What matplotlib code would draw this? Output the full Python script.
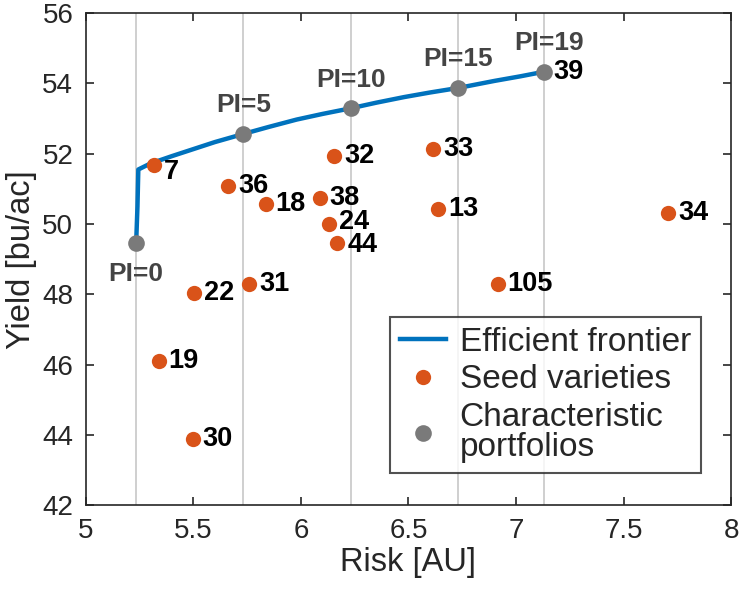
import matplotlib
matplotlib.use('Agg')
import matplotlib.pyplot as plt

plt.rcParams['font.family'] = ['Liberation Sans', 'DejaVu Sans']

# efficient frontier (risk, yield)
frontier_x = [5.234, 5.240, 5.244, 5.30, 5.40, 5.50, 5.60, 5.732, 5.85, 5.98, 6.10, 6.231, 6.35, 6.48, 6.60, 6.732, 6.90, 7.02, 7.13]
frontier_y = [49.47, 50.5, 51.55, 51.72, 51.93, 52.13, 52.33, 52.56, 52.76, 52.97, 53.13, 53.29, 53.45, 53.61, 53.74, 53.87, 54.07, 54.20, 54.33]

# characteristic portfolios
pi_labels = ['PI=0', 'PI=5', 'PI=10', 'PI=15', 'PI=19']
pi_x = [5.234, 5.732, 6.231, 6.732, 7.130]
pi_y = [49.47, 52.56, 53.29, 53.87, 54.33]

# seed varieties
seed_names = ['7', '36', '18', '38', '24', '44', '32', '33', '13', '34', '105', '22', '31', '19', '30']
seed_x = [5.318, 5.662, 5.836, 6.088, 6.132, 6.170, 6.155, 6.616, 6.639, 7.708, 6.915, 5.504, 5.760, 5.340, 5.496]
seed_y = [51.69, 51.08, 50.58, 50.75, 49.99, 49.46, 51.94, 52.12, 50.42, 50.30, 48.28, 48.05, 48.29, 46.11, 43.88]

blue = '#0072BD'
orange = '#D95319'
grey = '#7a7a7a'

fig = plt.figure(figsize=(7.4, 5.93), dpi=100)
ax = fig.add_axes([0.116, 0.148, 0.872, 0.830])

for x in pi_x:
    ax.axvline(x, color='#cccccc', lw=1.3, zorder=0)

ax.plot(frontier_x, frontier_y, color=blue, lw=3.2, label='Efficient frontier', zorder=2)
ax.plot(seed_x, seed_y, 'o', color=orange, ms=11, mec='none', label='Seed varieties', zorder=3)
ax.plot(pi_x, pi_y, 'o', color=grey, ms=12, mec='none', label='Characteristic\nportfolios', zorder=4)

nudge = {'7': -5, '24': 1.5, '44': -1.5}
for name, x, y in zip(seed_names, seed_x, seed_y):
    ax.annotate(name, (x, y), xytext=(7, nudge.get(name, 0)), textcoords='offset points',
                ha='left', va='center', fontsize=19.5, fontweight='bold', color='black')
ax.annotate('39', (pi_x[-1], pi_y[-1]), xytext=(7, 0), textcoords='offset points',
            ha='left', va='center', fontsize=19.5, fontweight='bold', color='black')

for lab, x, y in zip(pi_labels, pi_x, pi_y):
    if lab == 'PI=0':
        ax.annotate(lab, (x, y), xytext=(0, -14), textcoords='offset points',
                    ha='center', va='top', fontsize=19, fontweight='bold', color='#444444')
    else:
        dx = 4 if lab == 'PI=19' else 0
        ax.annotate(lab, (x, y), xytext=(dx, 15.5), textcoords='offset points',
                    ha='center', va='baseline', fontsize=19, fontweight='bold', color='#444444')

ax.set_xlim(5, 8)
ax.set_ylim(42, 56)
ax.set_xticks([5, 5.5, 6, 6.5, 7, 7.5, 8])
ax.set_xticklabels(['5', '5.5', '6', '6.5', '7', '7.5', '8'])
ax.set_yticks(range(42, 57, 2))
ax.tick_params(direction='in', length=6, width=1.2, top=True, right=True,
               labelsize=20, colors='#262626', pad=9)
for s in ax.spines.values():
    s.set_color('#262626')
    s.set_linewidth(1.2)

ax.set_xlabel('Risk [AU]', fontsize=23.5, color='#262626', labelpad=2)
ax.set_ylabel('Yield [bu/ac]', fontsize=23.5, color='#262626', labelpad=4)

leg = ax.legend(loc='lower right', bbox_to_anchor=(0.953, 0.066), fontsize=24,
                frameon=True, fancybox=False, handlelength=1.4, handletextpad=0.4,
                borderpad=0.3, labelspacing=0.2, borderaxespad=0)
leg.get_frame().set_edgecolor('#262626')
leg.get_frame().set_linewidth(1.5)
for t in leg.get_texts():
    t.set_color('#262626')
    t.set_linespacing(0.95)

fig.savefig('out.png', dpi=100)
